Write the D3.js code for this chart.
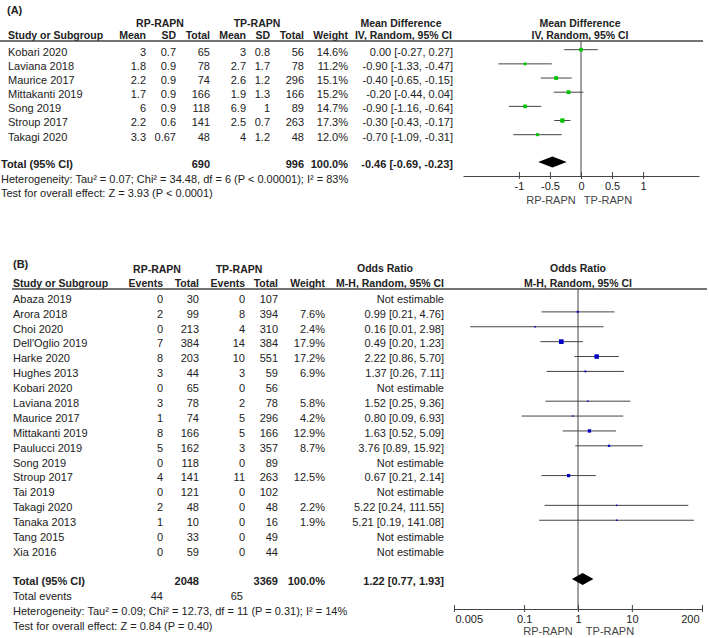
<!DOCTYPE html>
<html>
<head>
<meta charset="utf-8">
<script src="https://cdn.jsdelivr.net/npm/d3@7"></script>
<style>
  body { margin: 0; background: #fff; }
  svg { display: block; font-family: "Liberation Sans", Arial, sans-serif; }
</style>
</head>
<body>
<svg id="chart"></svg>
<script>
// Panel A: mean difference
let studiesA = ["Kobari 2020", "Laviana 2018", "Maurice 2017", "Mittakanti 2019", "Song 2019", "Stroup 2017", "Takagi 2020"];
let rpMean = [3, 1.8, 2.2, 1.7, 6, 2.2, 3.3];
let rpSD = [0.7, 0.9, 0.9, 0.9, 0.9, 0.6, 0.67];
let rpTotalA = [65, 78, 74, 166, 118, 141, 48];
let tpMean = [3, 2.7, 2.6, 1.9, 6.9, 2.5, 4];
let tpSD = [0.8, 1.7, 1.2, 1.3, 1, 0.7, 1.2];
let tpTotalA = [56, 78, 296, 166, 89, 263, 48];
let weightA = [14.6, 11.2, 15.1, 15.2, 14.7, 17.3, 12.0];
let mdA = [0.00, -0.90, -0.40, -0.20, -0.90, -0.30, -0.70];
let mdLowA = [-0.27, -1.33, -0.65, -0.44, -1.16, -0.43, -1.09];
let mdHighA = [0.27, -0.47, -0.15, 0.04, -0.64, -0.17, -0.31];
let pooledA = [-0.46, -0.69, -0.23];
let sumTotalsA = [690, 996];
let ticksA = [-1, -0.5, 0, 0.5, 1];

// Panel B: odds ratio
let studiesB = ["Abaza 2019", "Arora 2018", "Choi 2020", "Dell'Oglio 2019", "Harke 2020", "Hughes 2013", "Kobari 2020", "Laviana 2018", "Maurice 2017", "Mittakanti 2019", "Paulucci 2019", "Song 2019", "Stroup 2017", "Tai 2019", "Takagi 2020", "Tanaka 2013", "Tang 2015", "Xia 2016"];
let rpEvents = [0, 2, 0, 7, 8, 3, 0, 3, 1, 8, 5, 0, 4, 0, 2, 1, 0, 0];
let rpTotalB = [30, 99, 213, 384, 203, 44, 65, 78, 74, 166, 162, 118, 141, 121, 48, 10, 33, 59];
let tpEvents = [0, 8, 4, 14, 10, 3, 0, 2, 5, 5, 3, 0, 11, 0, 0, 0, 0, 0];
let tpTotalB = [107, 394, 310, 384, 551, 59, 56, 78, 296, 166, 357, 89, 263, 102, 48, 16, 49, 44];
let weightB = [null, 7.6, 2.4, 17.9, 17.2, 6.9, null, 5.8, 4.2, 12.9, 8.7, null, 12.5, null, 2.2, 1.9, null, null];
let orB = [null, 0.99, 0.16, 0.49, 2.22, 1.37, null, 1.52, 0.80, 1.63, 3.76, null, 0.67, null, 5.22, 5.21, null, null];
let orLowB = [null, 0.21, 0.01, 0.20, 0.86, 0.26, null, 0.25, 0.09, 0.52, 0.89, null, 0.21, null, 0.24, 0.19, null, null];
let orHighB = [null, 4.76, 2.98, 1.23, 5.70, 7.11, null, 9.36, 6.93, 5.09, 15.92, null, 2.14, null, 111.55, 141.08, null, null];
let pooledB = [1.22, 0.77, 1.93];
let sumTotalsB = [2048, 3369];
let sumEventsB = [44, 65];
let ticksB = [0.005, 0.1, 1, 10, 200];

let width = 709, height = 638;
let ink = "#222", lineCol = "#444";

let svg = d3.select("#chart").attr("width", width).attr("height", height);

// helper for text
let addText = (g, x, y, s, anchor, bold, size) => {
  return g.append("text")
    .attr("x", x).attr("y", y).attr("dy", "0.35em")
    .attr("text-anchor", anchor || "start")
    .attr("font-weight", bold ? "bold" : "normal")
    .attr("font-size", size || 11)
    .attr("fill", ink)
    .text(s);
};

let f2 = d => d.toFixed(2);
let ci = (e, l, h) => `${f2(e)} [${f2(l)}, ${f2(h)}]`;

// axis with ticks crossing the line
let drawAxis = (g, scale, ticks, y) => {
  let ax = g.append("g").attr("transform", `translate(0,${y})`)
    .call(d3.axisBottom(scale).tickValues(ticks).tickFormat(d => String(d))
      .tickSizeInner(3).tickSizeOuter(0).tickPadding(3));
  ax.select(".domain").attr("stroke", lineCol);
  ax.selectAll(".tick line").attr("stroke", lineCol).attr("y1", -4).attr("y2", 3);
  ax.selectAll(".tick text").attr("font-size", 11).attr("fill", ink)
    .attr("font-family", "Liberation Sans, Arial, sans-serif");
  return ax;
};

// ================= Panel A =================
let gA = svg.append("g");
addText(gA, 7, 10, "(A)", "start", true, 11);
addText(gA, 160, 23, "RP-RAPN", "middle", true, 10.5);
addText(gA, 257, 23, "TP-RAPN", "middle", true, 10.5);
addText(gA, 401, 23, "Mean Difference", "middle", true, 10.5);
addText(gA, 580, 23, "Mean Difference", "middle", true, 10.5);

let colA = [146, 176, 210, 246, 270, 304, 348];
let hdrA = ["Mean", "SD", "Total", "Mean", "SD", "Total", "Weight"];
addText(gA, 8, 35, "Study or Subgroup", "start", true, 10.5);
hdrA.forEach((h, i) => addText(gA, colA[i], 35, h, "end", true, 10.5));
addText(gA, 452, 35, "IV, Random, 95% CI", "end", true, 10.5);
addText(gA, 580, 35, "IV, Random, 95% CI", "middle", true, 10.5);

gA.append("line").attr("x1", 0).attr("x2", 703).attr("y1", 41).attr("y2", 41)
  .attr("stroke", lineCol).attr("stroke-width", 1.3);

let yA = d3.scalePoint().domain(studiesA).range([51.7, 136.7]);
let xA = d3.scaleLinear().domain([-1.9, 1.9]).range([463, 699]);

studiesA.forEach((s, i) => {
  let y = yA(s);
  addText(gA, 8, y, s);
  let vals = [rpMean[i], rpSD[i], rpTotalA[i], tpMean[i], tpSD[i], tpTotalA[i]];
  vals.forEach((v, j) => addText(gA, colA[j], y, String(v), "end"));
  addText(gA, colA[6], y, weightA[i].toFixed(1) + "%", "end");
  addText(gA, 453, y, ci(mdA[i], mdLowA[i], mdHighA[i]), "end");
});

// zero line
gA.append("line").attr("x1", xA(0)).attr("x2", xA(0)).attr("y1", 41).attr("y2", 176)
  .attr("stroke", lineCol).attr("stroke-width", 1);

// CI lines and boxes
studiesA.forEach((s, i) => {
  let y = yA(s) - 2;
  gA.append("line").attr("x1", xA(mdLowA[i])).attr("x2", xA(mdHighA[i]))
    .attr("y1", y).attr("y2", y).attr("stroke", lineCol).attr("stroke-width", 1);
  let sz = Math.max(1.5, weightA[i] * 0.25);
  gA.append("rect").attr("x", xA(mdA[i]) - sz / 2).attr("y", y - sz / 2)
    .attr("width", sz).attr("height", sz).attr("fill", "#00c400");
});

// totals
addText(gA, 1, 164, "Total (95% CI)", "start", true);
addText(gA, colA[2], 164, String(sumTotalsA[0]), "end", true);
addText(gA, colA[5], 164, String(sumTotalsA[1]), "end", true);
addText(gA, colA[6], 164, "100.0%", "end", true);
addText(gA, 453, 164, ci(pooledA[0], pooledA[1], pooledA[2]), "end", true);
addText(gA, 1, 179, "Heterogeneity: Tau² = 0.07; Chi² = 34.48, df = 6 (P < 0.00001); I² = 83%");
addText(gA, 1, 193, "Test for overall effect: Z = 3.93 (P < 0.0001)");

let dyA = 162;
gA.append("path")
  .attr("d", d3.line()([[xA(pooledA[1]), dyA], [xA(pooledA[0]), dyA - 5.5], [xA(pooledA[2]), dyA], [xA(pooledA[0]), dyA + 5.5]]) + "Z")
  .attr("fill", "#000");

drawAxis(gA, xA, ticksA, 176);
addText(gA, 551, 200, "RP-RAPN", "middle").attr("fill", "#444");
addText(gA, 608, 200, "TP-RAPN", "middle").attr("fill", "#444");

// ================= Panel B =================
let gB = svg.append("g");
addText(gB, 13, 264, "(B)", "start", true, 11);
addText(gB, 157, 269, "RP-RAPN", "middle", true, 10.5);
addText(gB, 239, 269, "TP-RAPN", "middle", true, 10.5);
addText(gB, 385, 268, "Odds Ratio", "middle", true, 10.5);
addText(gB, 578, 268, "Odds Ratio", "middle", true, 10.5);

let colB = [163, 199, 245, 278, 325];
let hdrB = ["Events", "Total", "Events", "Total", "Weight"];
addText(gB, 13, 283, "Study or Subgroup", "start", true, 10.5);
hdrB.forEach((h, i) => addText(gB, colB[i], 283, h, "end", true, 10.5));
addText(gB, 444, 283, "M-H, Random, 95% CI", "end", true, 10.5);
addText(gB, 578, 283, "M-H, Random, 95% CI", "middle", true, 10.5);

gB.append("line").attr("x1", 12).attr("x2", 707).attr("y1", 289).attr("y2", 289)
  .attr("stroke", lineCol).attr("stroke-width", 1.3);

let yB = d3.scalePoint().domain(studiesB).range([299, 552]);
let xB = d3.scaleLog().domain([0.005, 200]).range([454, 702]);

studiesB.forEach((s, i) => {
  let y = yB(s);
  addText(gB, 13, y, s);
  let vals = [rpEvents[i], rpTotalB[i], tpEvents[i], tpTotalB[i]];
  vals.forEach((v, j) => addText(gB, colB[j], y, String(v), "end"));
  if (weightB[i] !== null) addText(gB, colB[4], y, weightB[i].toFixed(1) + "%", "end");
  addText(gB, 444, y, orB[i] === null ? "Not estimable" : ci(orB[i], orLowB[i], orHighB[i]), "end");
});

gB.append("line").attr("x1", xB(1)).attr("x2", xB(1)).attr("y1", 289).attr("y2", 609)
  .attr("stroke", lineCol).attr("stroke-width", 1);

studiesB.forEach((s, i) => {
  if (orB[i] === null) return;
  let y = yB(s) - 2;
  gB.append("line").attr("x1", xB(orLowB[i])).attr("x2", xB(orHighB[i]))
    .attr("y1", y).attr("y2", y).attr("stroke", lineCol).attr("stroke-width", 1);
  let sz = Math.max(1.5, weightB[i] * 0.26);
  gB.append("rect").attr("x", xB(orB[i]) - sz / 2).attr("y", y - sz / 2)
    .attr("width", sz).attr("height", sz).attr("fill", "#0000c8");
});

addText(gB, 13, 581, "Total (95% CI)", "start", true);
addText(gB, colB[1], 581, String(sumTotalsB[0]), "end", true);
addText(gB, colB[3], 581, String(sumTotalsB[1]), "end", true);
addText(gB, colB[4], 581, "100.0%", "end", true);
addText(gB, 444, 581, ci(pooledB[0], pooledB[1], pooledB[2]), "end", true);
addText(gB, 13, 596, "Total events");
addText(gB, colB[0], 596, String(sumEventsB[0]), "end");
addText(gB, colB[2] - 2, 596, String(sumEventsB[1]), "end");
addText(gB, 13, 611, "Heterogeneity: Tau² = 0.09; Chi² = 12.73, df = 11 (P = 0.31); I² = 14%");
addText(gB, 13, 626, "Test for overall effect: Z = 0.84 (P = 0.40)");

let dyB = 579;
gB.append("path")
  .attr("d", d3.line()([[xB(pooledB[1]), dyB], [xB(pooledB[0]), dyB - 6], [xB(pooledB[2]), dyB], [xB(pooledB[0]), dyB + 6]]) + "Z")
  .attr("fill", "#000");

let axB = drawAxis(gB, xB, ticksB, 609);
// end labels sit inside the axis ends
axB.selectAll(".tick text")
  .attr("text-anchor", d => d === ticksB[0] ? "start" : d === ticksB[ticksB.length - 1] ? "end" : "middle")
  .attr("dx", d => d === ticksB[0] ? 1 : d === ticksB[ticksB.length - 1] ? -3 : 0);
addText(gB, 548, 631, "RP-RAPN", "middle").attr("fill", "#444");
addText(gB, 610, 631, "TP-RAPN", "middle").attr("fill", "#444");
</script>
</body>
</html>
